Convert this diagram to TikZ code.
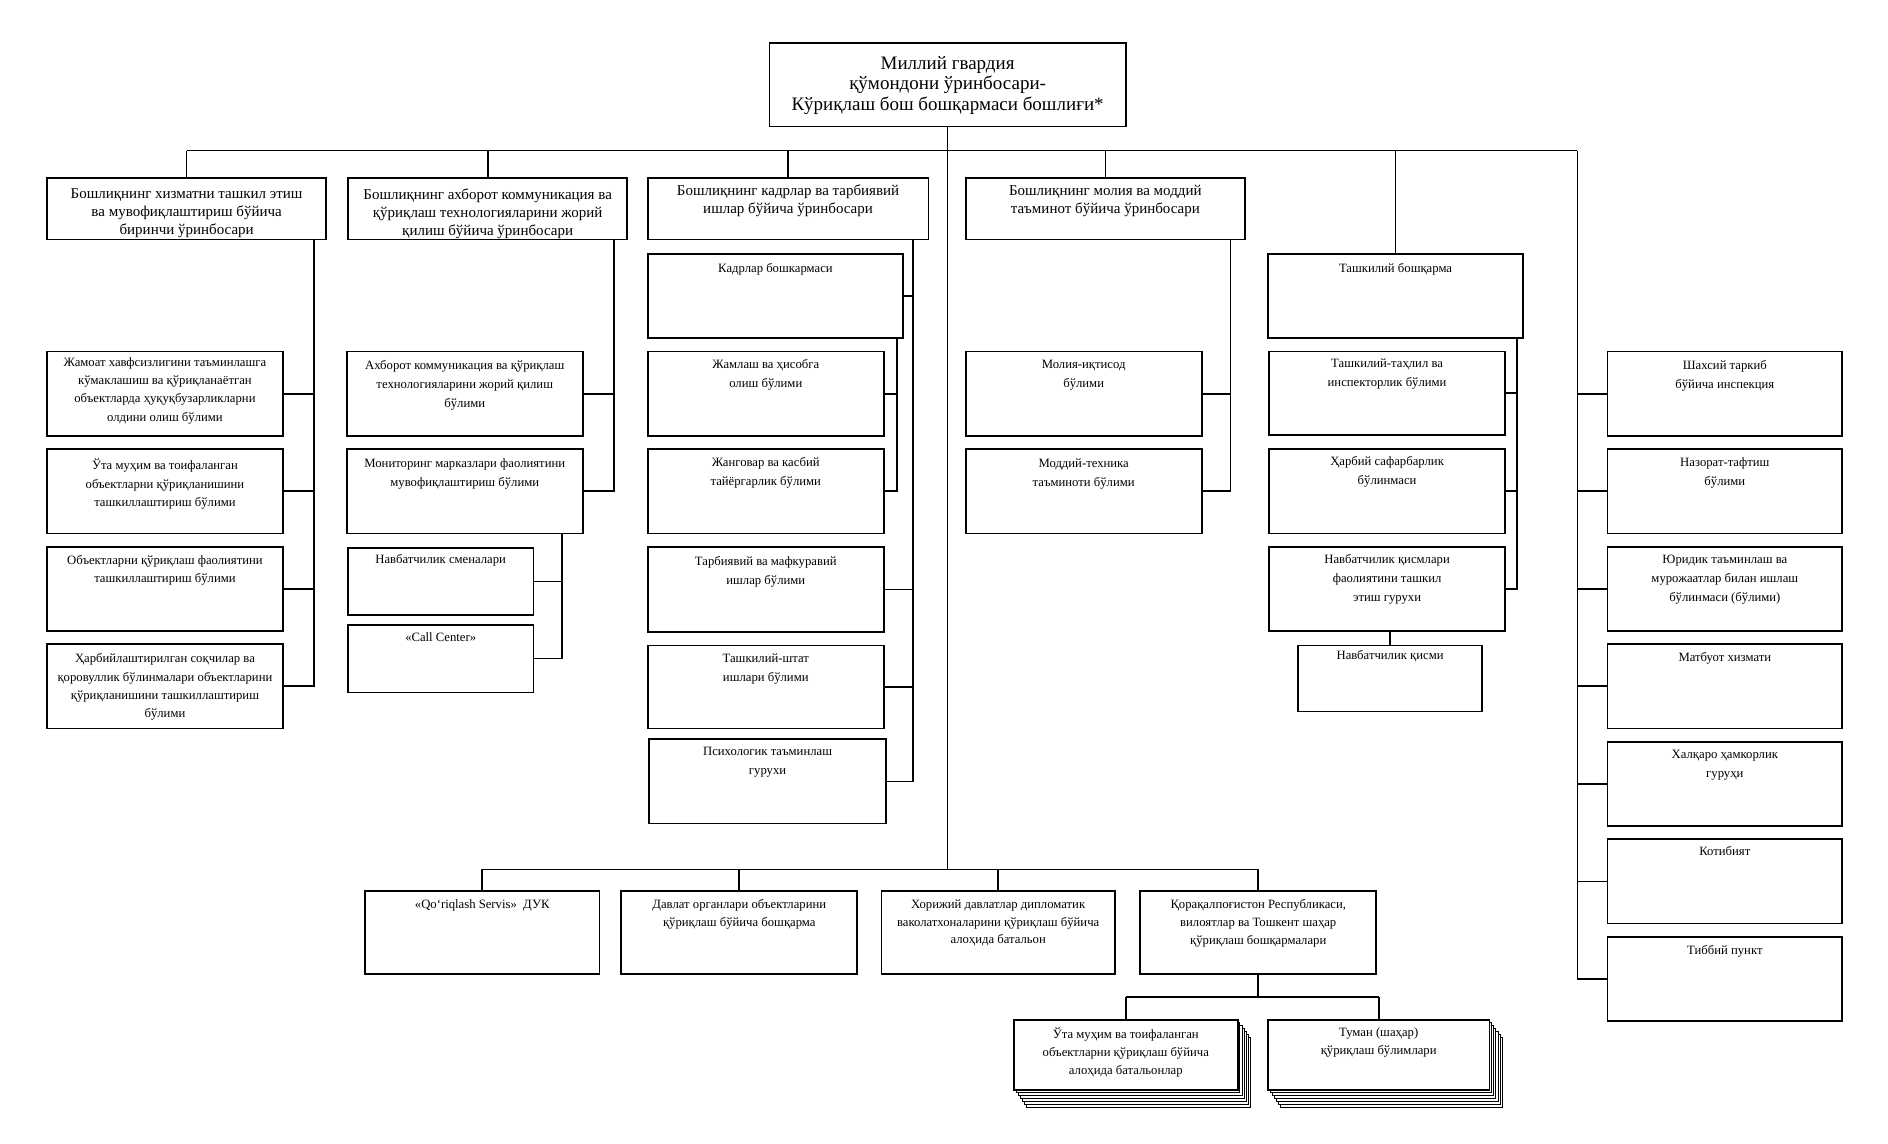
\documentclass[tikz,border=0pt]{standalone}
\usepackage{fontspec}
\setmainfont{Liberation Serif}
\usetikzlibrary{fit,calc}
\newcommand\obox[8][]{%
  \node[bx, fit={(#3,#4)(#5,#6)}] (#2) {};
  \node[lbl,#1] (#2t) at ($(#2.north)+(0,#7)$) {#8};
}
\begin{document}
\begin{tikzpicture}[x=1.2041pt,y=-1.2041pt,
  bx/.style={draw, fill=white, line width=1.7pt, inner sep=0pt, outer sep=0pt},
  lbl/.style={anchor=north, align=center, inner sep=0pt, yshift=-0.4pt, font=\fontsize{12.7}{19}\selectfont},
  lone/.style={yshift=-0.8pt, font=\fontsize{15}{18}\selectfont},
  lleft/.style={font=\fontsize{12.7}{18.3}\selectfont},
  lbot/.style={font=\fontsize{12.7}{17.8}\selectfont},
  ltop/.style={anchor=center, yshift=0pt, font=\fontsize{19}{20.3}\selectfont},
  ln/.style={line width=1.7pt},
  stk/.style={draw, fill=white, line width=1pt}]
\fill[white] (0,0) rectangle (1568,950);
\useasboundingbox (0,0) rectangle (1568,950);

% top
\obox[ltop]{top}{639}{36}{935}{105}{34.5}{Миллий гвардия\\қўмондони ўринбосари-\\Кўриқлаш бош бошқармаси бошлиғи*}

% level 1
\obox[lone]{b1}{39}{148}{271}{199}{7.3}{Бошлиқнинг хизматни ташкил этиш\\ва мувофиқлаштириш бўйича\\биринчи ўринбосари}
\obox[lone]{b2}{289}{148}{521}{199}{7.3}{Бошлиқнинг ахборот коммуникация ва\\қўриқлаш технологияларини жорий\\қилиш бўйича ўринбосари}
\obox[lone]{b3}{538}{148}{771}{199}{4.6}{Бошлиқнинг кадрлар ва тарбиявий\\ишлар бўйича ўринбосари}
\obox[lone]{b4}{802}{148}{1034}{199}{4.6}{Бошлиқнинг молия ва моддий\\таъминот бўйича ўринбосари}

% column 1
\obox[lleft]{c1}{39}{292}{235}{362}{4.4}{Жамоат хавфсизлигини таъминлашга\\кўмаклашиш ва қўриқланаётган\\объектларда ҳуқуқбузарликларни\\олдини олиш бўлими}
\obox[lleft]{c2}{39}{373}{235}{443}{7.7}{Ўта муҳим ва тоифаланган\\объектларни қўриқланишини\\ташкиллаштириш бўлими}
\obox[lleft]{c3}{39}{454}{235}{524}{6.6}{Объектларни қўриқлаш фаолиятини\\ташкиллаштириш бўлими}
\obox[lleft]{c4}{39}{535}{235}{605}{7.4}{Ҳарбийлаштирилган соқчилар ва\\қоровуллик бўлинмалари объектларини\\қўриқланишини ташкиллаштириш\\бўлими}

% column 2
\obox{d1}{288}{292}{484}{362}{6.5}{Ахборот коммуникация ва қўриқлаш\\технологияларини жорий қилиш\\бўлими}
\obox{d2}{288}{373}{484}{443}{7.7}{Мониторинг марказлари фаолиятини\\мувофиқлаштириш бўлими}
\obox{d3}{289}{455}{443}{511}{5.2}{Навбатчилик сменалари}
\obox{d4}{289}{519}{443}{575}{6.3}{«Call Center»}

% column 3
\obox{e1}{538}{211}{750}{281}{6.9}{Кадрлар бошкармаси}
\obox{e2}{538}{292}{734}{362}{6.3}{Жамлаш ва ҳисобга\\олиш бўлими}
\obox{e3}{538}{373}{734}{443}{6.6}{Жанговар ва касбий\\тайёргарлик бўлими}
\obox{e4}{538}{454}{734}{525}{7.4}{Тарбиявий ва мафкуравий\\ишлар бўлими}
\obox{e5}{538}{536}{734}{605}{6.3}{Ташкилий-штат\\ишлари бўлими}
\obox{e6}{539}{614}{736}{684}{5.7}{Психологик таъминлаш\\гурухи}

% column 4
\obox{f1}{802}{292}{998}{362}{6.3}{Молия-иқтисод\\бўлими}
\obox{f2}{802}{373}{998}{443}{7.2}{Моддий-техника\\таъминоти бўлими}

% column 5
\obox{g0}{1053}{211}{1265}{281}{6.9}{Ташкилий бошқарма}
\obox{g1}{1054}{292}{1250}{361}{5.8}{Ташкилий-таҳлил ва\\инспекторлик бўлими}
\obox{g2}{1054}{373}{1250}{443}{5.8}{Ҳарбий сафарбарлик\\бўлинмаси}
\obox{g3}{1054}{454}{1250}{524}{6.3}{Навбатчилик қисмлари\\фаолиятини ташкил\\этиш гурухи}
\obox{g4}{1078}{536}{1231}{591}{3.6}{Навбатчилик қисми}

% right column
\obox{h1}{1335}{292}{1530}{362}{6.6}{Шахсий таркиб\\бўйича инспекция}
\obox{h2}{1335}{373}{1530}{443}{6.6}{Назорат-тафтиш\\бўлими}
\obox{h3}{1335}{454}{1530}{524}{6.6}{Юридик таъминлаш ва\\мурожаатлар билан ишлаш\\бўлинмаси (бўлими)}
\obox{h4}{1335}{535}{1530}{605}{6.3}{Матбуот хизмати}
\obox{h5}{1335}{616}{1530}{686}{6.3}{Халқаро ҳамкорлик\\гуруҳи}
\obox{h6}{1335}{697}{1530}{767}{5.8}{Котибият}
\obox{h7}{1335}{778}{1530}{848}{6.3}{Тиббий пункт}

% bottom row
\obox[lbot]{k1}{303}{740}{498}{809}{6.7}{«Qo‘riqlash Servis»\ \ ДУК}
\obox[lbot]{k2}{516}{740}{712}{809}{6.7}{Давлат органлари объектларини\\қўриқлаш бўйича бошқарма}
\obox[lbot]{k3}{732}{740}{926}{809}{6.7}{Хорижий давлатлар дипломатик\\ваколатхоналарини қўриқлаш бўйича\\алоҳида батальон}
\obox[lbot]{k4}{947}{740}{1143}{809}{6.7}{Қорақалпоғистон Республикаси,\\вилоятлар ва Тошкент шаҳар\\қўриқлаш бошқармалари}

% stacked boxes
\foreach \i in {6,5,...,1} {
  \draw[stk] (842+1.8*\i, 847+2.5*\i) rectangle (1028+1.8*\i, 905+2.5*\i);
  \draw[stk] (1053+1.8*\i, 847+2.5*\i) rectangle (1237+1.8*\i, 905+2.5*\i);
}
\obox[lbot]{m1}{842}{847}{1028}{905}{6.3}{Ўта муҳим ва тоифаланган\\объектларни қўриқлаш бўйича\\алоҳида батальонлар}
\obox[lbot]{m2}{1053}{847}{1237}{905}{6.3}{Туман (шаҳар)\\қўриқлаш бўлимлари}

% ---- connectors ----
\coordinate (busT) at (top.south |- 0,125);
\coordinate (busB) at (top.south |- 0,722);
\coordinate (rc) at (1310,125);
\draw[ln] (top.south) -- (busB);
\draw[ln] (b1.north |- busT) -- (rc);
\draw[ln] (rc) -- (rc |- h7.west);
\foreach \n in {b1,b2,b3,b4,g0} \draw[ln] (\n.north) -- (\n.north |- busT);
\foreach \n in {h1,h2,h3,h4,h5,h6,h7} \draw[ln] (\n.west) -- (\n.west -| rc);

% column 1
\coordinate (v1) at ($(b1.south east)+(-10,0)$);
\draw[ln] (v1) |- (c4.east);
\foreach \n in {c1,c2,c3} \draw[ln] (\n.east) -- (\n.east -| v1);

% column 2
\coordinate (v2) at ($(b2.south east)+(-11,0)$);
\draw[ln] (v2) |- (d2.east);
\draw[ln] (d1.east) -- (d1.east -| v2);
\coordinate (v2b) at ($(d2.south east)+(-17,0)$);
\draw[ln] (v2b) |- (d4.east);
\draw[ln] (d3.east) -- (d3.east -| v2b);

% column 3
\coordinate (v3) at ($(b3.south east)+(-13,0)$);
\draw[ln] (v3) |- (e6.east);
\foreach \n in {e1,e4,e5} \draw[ln] (\n.east) -- (\n.east -| v3);
\coordinate (v3b) at ($(e1.south east)+(-5,0)$);
\draw[ln] (v3b) |- (e3.east);
\draw[ln] (e2.east) -- (e2.east -| v3b);

% column 4
\coordinate (v4) at ($(b4.south east)+(-12,0)$);
\draw[ln] (v4) |- (f2.east);
\draw[ln] (f1.east) -- (f1.east -| v4);

% column 5
\coordinate (v5) at ($(g0.south east)+(-5,0)$);
\draw[ln] (v5) |- (g3.east);
\foreach \n in {g1,g2} \draw[ln] (\n.east) -- (\n.east -| v5);
\draw[ln] (g4.north) -- (g4.north |- g3.south);

% bottom
\draw[ln] (k1.north |- busB) -- (k4.north |- busB);
\foreach \n in {k1,k2,k3,k4} \draw[ln] (\n.north) -- (\n.north |- busB);
\coordinate (busM) at (k4.south |- 0,828);
\draw[ln] (k4.south) -- (busM);
\draw[ln] (m1.north |- busM) -- (m2.north |- busM);
\foreach \n in {m1,m2} \draw[ln] (\n.north) -- (\n.north |- busM);
\end{tikzpicture}
\end{document}
